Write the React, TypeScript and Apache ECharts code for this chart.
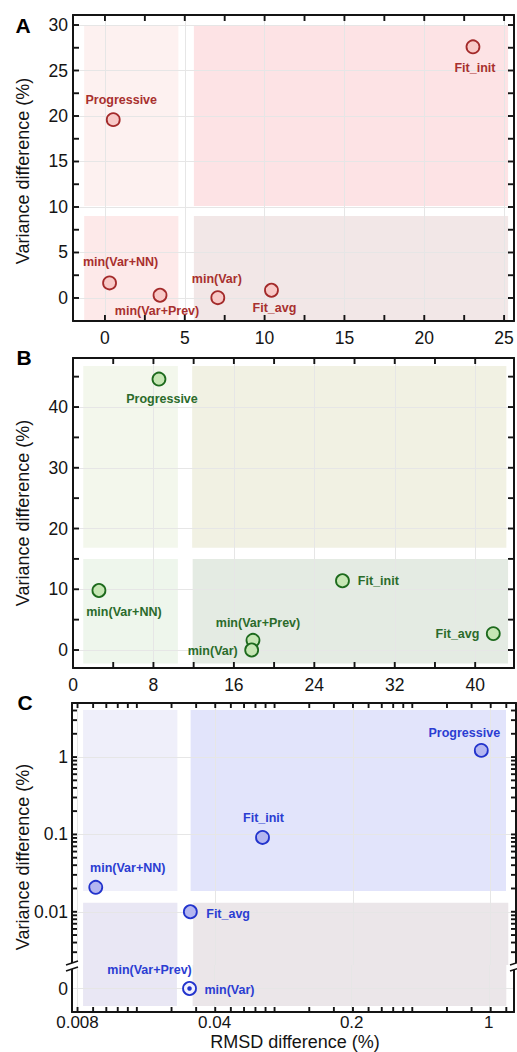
import React, { useEffect, useRef } from 'react';
import * as echarts from 'echarts';

// ---------------- data ----------------
const methods = ['Progressive', 'min(Var+NN)', 'min(Var+Prev)', 'min(Var)', 'Fit_avg', 'Fit_init'];

// Panel A
const aRmsd = [0.52, 0.29, 3.45, 7.07, 10.43, 23.05];
const aVariance = [19.6, 1.65, 0.3, 0.03, 0.85, 27.6];
// Panel B
const bRmsd = [8.55, 2.58, 17.9, 17.77, 41.8, 26.8];
const bVariance = [44.6, 9.8, 1.6, 0.0, 2.7, 11.4];
// Panel C
const cRmsd = [0.896, 0.0099, 0.0298, 0.0298, 0.0299, 0.0695];
const cVariance = [1.22, 0.0207, 0, 0, 0.01, 0.0915];

// tick labels
const aXLabels = [0, 5, 10, 15, 20, 25];
const aYLabels = [0, 5, 10, 15, 20, 25, 30];
const bXLabels = [0, 8, 16, 24, 32, 40];
const bYLabels = [0, 10, 20, 30, 40];
const cXLabels = [0.008, 0.04, 0.2, 1];
const cYLabels = [0.01, 0.1, 1];
const cYZeroLabels = [0];

// tick marks (drawn on all four sides of each frame)
const aXTicks = [0, 2.5, 5, 7.5, 10, 12.5, 15, 17.5, 20, 22.5, 25];
const aYTicks = [0, 2.5, 5, 7.5, 10, 12.5, 15, 17.5, 20, 22.5, 25, 27.5, 30];
const bXTicks = [4, 8, 12, 16, 20, 24, 28, 32, 36, 40];
const bYTicks = [0, 5, 10, 15, 20, 25, 30, 35, 40, 45];
const cXTickMultipliers = [1, 1.2, 1.4, 1.6, 1.8, 2, 3, 4];
const cXTickPowers = [-4, -3, -2, -1, 0];
const cYTickMultipliers = [1, 2, 3, 4, 5, 6, 7, 8, 9];
const cYTickPowers = [-3, -2, -1, 0];

// shaded quadrants: [x0, x1, y0, y1]
const aRegions = [
  [-1.3, 4.6, 10.1, 30.0],
  [5.57, 25.25, 10.1, 30.0],
  [-1.3, 4.6, -2.42, 9.0],
  [5.57, 25.25, -2.42, 9.0],
];
const bRegions = [
  [1.02, 10.43, 16.84, 46.75],
  [11.85, 43.1, 16.84, 46.75],
  [1.02, 10.43, -2.2, 14.98],
  [11.9, 43.27, -2.2, 14.98],
];
const cUpperRegions = [
  [0.00854, 0.0257, 0.0185, 4.06],
  [0.030, 1.196, 0.0185, 4.06],
];
// lower quadrants cross the axis break: [x0, x1, top value on log part, bottom value on zero part]
const cLowerRegions = [
  [0.00854, 0.0257, 0.01307, -0.745],
  [0.0309, 1.228, 0.01307, -0.745],
];

// ---------------- styles ----------------
const FONT = '"Liberation Sans", Arial, Helvetica, sans-serif';
const INK = '#141414';
const GRID_COLOR = '#e6e6e6';

const aColors = { stroke: '#a32a2a', fill: '#f8c9c7', text: '#a8302e', regions: ['#fdf1f0', '#fde3e5', '#fde9e9', '#f2e7e7'] };
const bColors = { stroke: '#1d6a1d', fill: '#c6e6b4', text: '#2b6b2b', regions: ['#f3f7ec', '#f1f1e3', '#eef6ec', '#e4ebe3'] };
const cColors = { stroke: '#2233cc', fill: '#b4b6f0', text: '#2b3dd2', regions: ['#efeffa', '#e2e4fb', '#e9e7f4', '#ebe6e9'] };

const aLabelPlacement: Record<string, any> = {
  'Progressive': { position: 'top', distance: 6, offset: [8, 0] },
  'min(Var+NN)': { position: 'top', distance: 7, offset: [11, 0] },
  'min(Var+Prev)': { position: 'bottom', distance: 2, offset: [-3, 0] },
  'min(Var)': { position: 'top', distance: 5, offset: [-1, 0] },
  'Fit_avg': { position: 'bottom', distance: 3.5, offset: [3, 0] },
  'Fit_init': { position: 'bottom', distance: 7, offset: [2, 0] },
};
const bLabelPlacement: Record<string, any> = {
  'Progressive': { position: 'bottom', distance: 6.5, offset: [3, 0] },
  'min(Var+NN)': { position: 'bottom', distance: 8, offset: [25, 0] },
  'min(Var+Prev)': { position: 'top', distance: 3, offset: [5, 0] },
  'min(Var)': { position: 'left', distance: 6.5, offset: [0, 1] },
  'Fit_avg': { position: 'left', distance: 6.5, offset: [0, 0] },
  'Fit_init': { position: 'right', distance: 8, offset: [0, 0] },
};
const cLabelPlacement: Record<string, any> = {
  'Progressive': { position: 'top', distance: 3.5, offset: [-17, 0] },
  'min(Var+NN)': { position: 'top', distance: 5, offset: [32, 0] },
  'min(Var+Prev)': { position: 'top', distance: 10, offset: [-40, 0] },
  'min(Var)': { position: 'right', distance: 7.5, offset: [0, 1] },
  'Fit_avg': { position: 'right', distance: 8.5, offset: [0, 2] },
  'Fit_init': { position: 'top', distance: 5, offset: [1, 0] },
};
const cMarkerOverrides: Record<string, any> = {
  'min(Var)': { symbolSize: 13, itemStyle: { color: '#f1f1ff' } },
  'min(Var+Prev)': { symbolSize: 4.5, itemStyle: { color: '#2233cc', borderWidth: 0 } },
};

const near = (list: number[], v: number) => list.some((t) => Math.abs(t - v) <= Math.abs(t) * 1e-6 + 1e-9);
const labelFmt = (list: number[]) => (v: number) => (near(list, v) ? String(v) : '');

const axisLine = { show: true, onZero: false, lineStyle: { color: INK, width: 2 } };
const noLine = { show: false, onZero: false };
const gridLine = { show: true, showMinLine: false, showMaxLine: false, lineStyle: { color: GRID_COLOR, width: 1 } };
const noTick = { show: false };
const labelStyle = { fontSize: 17.5, color: INK, fontFamily: FONT };

function linPair(dim: 'x' | 'y', gridIndex: number, min: number, max: number, labels: number[], interval?: number) {
  const base: any = { type: 'value', gridIndex, min, max, z: 2 };
  if (interval) base.interval = interval;
  const main = {
    ...base,
    position: dim === 'x' ? 'bottom' : 'left',
    axisLine, axisTick: noTick, splitLine: gridLine,
    axisLabel: { ...labelStyle, margin: dim === 'x' ? 8 : 5, formatter: labelFmt(labels) },
  };
  const mirror = {
    ...base,
    position: dim === 'x' ? 'top' : 'right',
    axisLine, axisTick: noTick, splitLine: { show: false }, axisLabel: { show: false },
  };
  return [main, mirror];
}

function regionData(regions: number[][], colors: string[]) {
  return regions.map((r, k) => [
    { xAxis: r[0], yAxis: r[2], itemStyle: { color: colors[k] } },
    { xAxis: r[1], yAxis: r[3] },
  ]);
}

function points(xs: number[], ys: number[], placement: Record<string, any>, filter: (y: number) => boolean) {
  const out: any[] = [];
  methods.forEach((m, i) => {
    if (!filter(ys[i])) return;
    out.push({ name: m, value: [xs[i], ys[i]], label: placement[m] });
  });
  return out;
}

function scatter(xi: number, yi: number, colors: any, data: any[]) {
  return {
    type: 'scatter', xAxisIndex: xi, yAxisIndex: yi, z: 3, silent: true,
    symbol: 'circle', symbolSize: 13,
    itemStyle: { color: colors.fill, borderColor: colors.stroke, borderWidth: 1.8, opacity: 1 },
    label: { show: true, formatter: '{b}', color: colors.text, fontWeight: 'bold', fontSize: 12.5, fontFamily: FONT },
    data,
  };
}

function shading(xi: number, yi: number, markData: any[]) {
  return {
    type: 'scatter', xAxisIndex: xi, yAxisIndex: yi, z: 1, silent: true, data: [],
    markArea: { silent: true, z: 1, label: { show: false }, itemStyle: { borderWidth: 0 }, data: markData },
  };
}

export default function App() {
  const ref = useRef<HTMLDivElement>(null);

  useEffect(() => {
    if (!ref.current) return;
    const chart = echarts.init(ref.current, null, { renderer: 'svg' });

    const cXTicks: number[] = [];
    cXTickPowers.forEach((p) => cXTickMultipliers.forEach((k) => cXTicks.push(+(k * Math.pow(5, p)).toPrecision(10))));
    const cYTicks: number[] = [];
    cYTickPowers.forEach((p) => cYTickMultipliers.forEach((k) => cYTicks.push(+(k * Math.pow(10, p)).toPrecision(10))));

    const aX: [number, number] = [-2, 25.62], aY: [number, number] = [-2.53, 31.1];
    const bX: [number, number] = [0, 43.86], bY: [number, number] = [-2.96, 48.07];
    const cX: [number, number] = [0.0075, 1.344], cY: [number, number] = [0.00205, 5];

    const cLog = { type: 'log', logBase: 5, min: cX[0], max: cX[1], z: 2 };
    const cLogY = { type: 'log', logBase: 10, min: cY[0], max: cY[1], z: 2 };

    const xAxis: any[] = [
      ...linPair('x', 0, aX[0], aX[1], aXLabels),
      ...linPair('x', 1, bX[0], bX[1], bXLabels, 8),
      { ...cLog, gridIndex: 2, position: 'bottom', axisLine: noLine, axisTick: noTick, axisLabel: { show: false }, splitLine: gridLine },
      { ...cLog, gridIndex: 2, position: 'top', axisLine, axisTick: noTick, axisLabel: { show: false }, splitLine: { show: false } },
      { ...cLog, gridIndex: 3, position: 'bottom', axisLine, axisTick: noTick, axisLabel: { ...labelStyle, fontSize: 17, margin: 2, formatter: labelFmt(cXLabels) }, splitLine: gridLine },
    ];
    const yAxis: any[] = [
      ...linPair('y', 0, aY[0], aY[1], aYLabels),
      ...linPair('y', 1, bY[0], bY[1], bYLabels),
      { ...cLogY, gridIndex: 2, position: 'left', axisLine, axisTick: noTick, axisLabel: { ...labelStyle, margin: 4, formatter: labelFmt(cYLabels) }, splitLine: gridLine },
      { ...cLogY, gridIndex: 2, position: 'right', axisLine, axisTick: noTick, axisLabel: { show: false }, splitLine: { show: false } },
      { type: 'value', gridIndex: 3, min: -1, max: 1, interval: 1, z: 2, position: 'left', axisLine, axisTick: noTick, axisLabel: { ...labelStyle, margin: 4, formatter: labelFmt(cYZeroLabels) }, splitLine: gridLine },
      { type: 'value', gridIndex: 3, min: -1, max: 1, interval: 1, z: 2, position: 'right', axisLine, axisTick: noTick, axisLabel: { show: false }, splitLine: { show: false } },
    ];

    const cZeroData = points(cRmsd, cVariance, cLabelPlacement, (y) => y === 0)
      .map((d) => ({ ...d, ...(cMarkerOverrides[d.name] || {}) }))
      .sort((p, q) => (q.symbolSize || 13) - (p.symbolSize || 13));

    const series: any[] = [
      shading(0, 0, regionData(aRegions, aColors.regions)),
      shading(2, 2, regionData(bRegions, bColors.regions)),
      shading(4, 4, [
        ...regionData(cUpperRegions, cColors.regions.slice(0, 2)),
        ...cLowerRegions.map((r, k) => [
          { xAxis: r[0], yAxis: r[2], itemStyle: { color: cColors.regions[2 + k] } },
          { xAxis: r[1], yAxis: cY[0] },
        ]),
      ]),
      shading(6, 6, cLowerRegions.map((r, k) => [
        { xAxis: r[0], yAxis: 1, itemStyle: { color: cColors.regions[2 + k] } },
        { xAxis: r[1], yAxis: r[3] },
      ])),
      scatter(0, 0, aColors, points(aRmsd, aVariance, aLabelPlacement, () => true)),
      scatter(2, 2, bColors, points(bRmsd, bVariance, bLabelPlacement, () => true)),
      scatter(4, 4, cColors, points(cRmsd, cVariance, cLabelPlacement, (y) => y > 0)),
      scatter(6, 6, cColors, cZeroData),
    ];

    const title = (text: string, x: number, y: number, rotate: boolean) => ({
      type: 'text', x, y, rotation: rotate ? Math.PI / 2 : 0, z: 50,
      style: { text, fill: INK, font: `18px ${FONT}`, align: 'center', verticalAlign: 'middle' },
    });
    const letter = (text: string, x: number, y: number) => ({
      type: 'text', x, y, z: 50,
      style: { text, fill: '#000', font: `bold 21px ${FONT}`, align: 'center', verticalAlign: 'middle' },
    });
    const breakMark = (x: number, y: number) => ({
      type: 'group', x, y, z: 100,
      children: [
        { type: 'polygon', z: 100, shape: { points: [[-6, 1], [6, -3], [6, 3], [-6, 7]] }, style: { fill: '#ffffff' } },
        { type: 'line', z: 101, shape: { x1: -6, y1: 1, x2: 6, y2: -3 }, style: { stroke: INK, lineWidth: 1.5 } },
        { type: 'line', z: 101, shape: { x1: -6, y1: 7, x2: 6, y2: 3 }, style: { stroke: INK, lineWidth: 1.5 } },
      ],
    });

    const baseGraphic: any[] = [
      letter('A', 23, 25),
      letter('B', 24, 357),
      letter('C', 25, 702),
      title('Variance difference (%)', 23, 171, true),
      title('Variance difference (%)', 23, 513, true),
      title('Variance difference (%)', 23, 857, true),
      title('RMSD difference (%)', 295, 1042, false),
    ];

    chart.setOption({
      animation: false,
      backgroundColor: '#ffffff',
      textStyle: { fontFamily: FONT },
      grid: [
        { left: 73, top: 15, width: 443, height: 306 },
        { left: 73, top: 358, width: 443, height: 310 },
        { left: 72, top: 703, width: 444, height: 262 },
        { left: 72, top: 965, width: 444, height: 47 },
      ],
      xAxis,
      yAxis,
      series,
      graphic: baseGraphic,
    });

    // inward tick marks on all four sides, positioned through the axes' own scales
    const tickLine = (x1: number, y1: number, x2: number, y2: number) => ({
      type: 'line', z: 60, silent: true,
      shape: { x1, y1, x2, y2 }, style: { stroke: INK, lineWidth: 1.9 },
    });
    const frameTicks = (xi: number, yi: number, xr: [number, number], yr: [number, number],
      xt: number[], yt: number[], len: number, bottomOverride?: number) => {
      const cx = (v: number) => Number(chart.convertToPixel({ xAxisIndex: xi }, v));
      const cy = (v: number) => Number(chart.convertToPixel({ yAxisIndex: yi }, v));
      const left = cx(xr[0]), right = cx(xr[1]);
      const top = cy(yr[1]);
      const bottom = bottomOverride != null ? bottomOverride : cy(yr[0]);
      const out: any[] = [];
      xt.filter((v) => v > xr[0] && v < xr[1]).forEach((v) => {
        const x = cx(v);
        out.push(tickLine(x, top, x, top + len));
        out.push(tickLine(x, bottom, x, bottom - len));
      });
      yt.filter((v) => v > yr[0] && v < yr[1]).forEach((v) => {
        const y = cy(v);
        out.push(tickLine(left, y, left + len, y));
        out.push(tickLine(right, y, right - len, y));
      });
      return out;
    };

    const cBottom = Number(chart.convertToPixel({ yAxisIndex: 6 }, -1));
    const ticks = [
      ...frameTicks(0, 0, aX, aY, aXTicks, aYTicks, 6),
      ...frameTicks(2, 2, bX, bY, bXTicks, bYTicks, 6),
      ...frameTicks(4, 4, cX, cY, cXTicks, cYTicks, 5, cBottom),
    ];

    chart.setOption({
      graphic: [...baseGraphic, breakMark(72, 964), breakMark(516, 964), ...ticks],
    });

    return () => chart.dispose();
  }, []);

  return <div ref={ref} style={{ position: 'absolute', left: 0, top: 0, width: 517, height: 1052, background: '#fff' }} />;
}
